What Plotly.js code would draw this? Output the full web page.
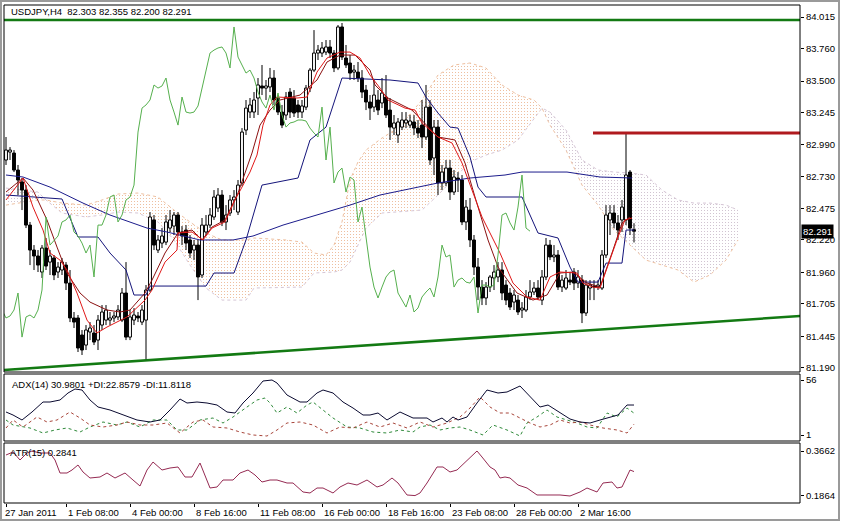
<!DOCTYPE html>
<html><head><meta charset="utf-8">
<script src="https://cdn.plot.ly/plotly-3.0.1.min.js"></script>
<style>html,body{margin:0;padding:0;background:#fff;}#c{width:841px;height:522px;}</style>
</head><body><div id="c"></div>
<script>
// ---------- price data (H4 bars, index 0..157) ----------
const open = [82.864,82.928,82.920,82.783,82.687,82.622,82.340,82.139,82.091,81.962,82.155,82.042,82.075,81.962,81.978,82.018,81.873,81.592,81.592,81.455,81.374,81.479,81.471,81.414,81.535,81.575,81.575,81.592,81.600,81.575,81.793,81.438,81.575,81.608,81.559,81.575,81.817,82.381,82.139,82.195,82.203,82.316,82.332,82.421,82.284,82.300,82.220,82.139,82.179,81.938,82.284,82.340,82.405,82.477,82.582,82.365,82.437,82.542,82.445,82.679,83.105,83.250,83.250,83.363,83.460,83.443,83.452,83.524,83.363,83.250,83.226,83.411,83.363,83.307,83.250,83.290,83.443,83.588,83.725,83.725,83.733,83.774,83.725,83.605,83.935,83.685,83.645,83.572,83.572,83.524,83.427,83.331,83.290,83.347,83.323,83.371,83.266,83.121,83.065,83.129,83.162,83.145,83.170,83.121,83.145,83.049,83.290,82.880,83.129,82.679,82.679,82.799,82.606,82.719,82.703,82.365,82.461,82.220,82.002,81.841,81.753,81.841,81.914,81.922,81.978,81.857,81.793,81.720,81.736,81.656,81.656,81.761,81.801,81.833,81.736,81.922,82.179,82.083,82.099,81.841,81.833,81.897,81.962,81.873,81.897,81.632,81.833,81.849,81.841,81.833,82.099,82.381,82.437,82.357,82.381,82.381,82.767,82.303];
const high = [83.049,82.968,82.944,82.824,82.719,82.662,82.365,82.179,82.139,82.179,82.236,82.139,82.099,82.042,82.075,82.042,81.978,81.640,81.616,81.495,81.535,81.559,81.535,81.616,81.696,81.696,81.640,81.640,81.696,81.833,82.042,81.656,81.672,81.640,81.696,81.857,82.445,82.421,82.260,82.316,82.421,82.461,82.445,82.445,82.332,82.340,82.260,82.220,82.220,82.397,82.421,82.477,82.622,82.638,82.622,82.501,82.582,82.622,82.703,83.121,83.347,83.363,83.411,83.524,83.629,83.508,83.605,83.588,83.387,83.307,83.411,83.443,83.427,83.347,83.347,83.468,83.605,83.910,83.790,83.814,83.830,83.830,83.749,83.951,83.967,83.790,83.709,83.629,83.653,83.588,83.468,83.387,83.508,83.427,83.524,83.548,83.363,83.226,83.202,83.250,83.250,83.226,83.226,83.186,83.347,83.468,83.347,83.186,83.186,82.824,82.864,82.864,82.783,82.767,82.743,82.542,82.558,82.260,82.075,81.897,81.881,81.938,82.018,82.042,82.042,81.897,81.833,81.817,81.777,81.720,81.817,81.897,81.881,81.897,81.978,82.236,82.220,82.179,82.139,81.938,81.978,81.962,81.994,81.978,81.938,81.897,81.897,81.897,81.897,82.139,82.501,82.501,82.501,82.421,82.542,83.081,82.783,82.355];
const low = [82.824,82.864,82.767,82.582,82.461,82.316,82.018,81.978,81.962,81.914,81.978,81.938,81.897,81.914,81.938,81.817,81.559,81.511,81.318,81.294,81.334,81.414,81.374,81.334,81.495,81.535,81.535,81.559,81.575,81.559,81.414,81.414,81.535,81.559,81.535,81.253,81.801,82.139,82.115,82.155,82.179,82.284,82.260,82.252,82.179,82.139,82.075,82.058,81.736,81.914,82.260,82.316,82.381,82.445,82.332,82.300,82.413,82.461,82.421,82.654,83.065,83.202,83.202,83.226,83.387,83.347,83.411,83.307,83.226,83.121,83.186,83.202,83.210,83.202,83.202,83.266,83.411,83.572,83.669,83.693,83.709,83.685,83.572,83.588,83.669,83.605,83.508,83.508,83.492,83.363,83.266,83.186,83.250,83.226,83.282,83.202,83.025,83.065,83.001,83.105,83.121,83.121,83.065,83.041,82.960,83.025,82.824,82.743,82.582,82.622,82.654,82.542,82.582,82.606,82.340,82.300,82.163,81.938,81.736,81.696,81.696,81.801,81.817,81.881,81.736,81.696,81.656,81.656,81.616,81.592,81.640,81.736,81.777,81.736,81.696,81.897,82.058,82.042,81.817,81.801,81.817,81.857,81.817,81.833,81.551,81.608,81.736,81.736,81.817,81.817,82.075,82.260,82.316,82.220,82.284,82.340,82.260,82.200];
const close = [82.944,82.944,82.783,82.703,82.622,82.340,82.139,82.091,82.018,82.155,82.010,82.091,81.938,82.002,82.042,81.873,81.592,81.559,81.350,81.334,81.495,81.511,81.398,81.575,81.640,81.656,81.592,81.608,81.656,81.793,81.438,81.600,81.616,81.592,81.656,81.817,82.405,82.179,82.220,82.252,82.365,82.381,82.421,82.284,82.252,82.195,82.115,82.179,81.922,82.340,82.340,82.421,82.566,82.582,82.365,82.421,82.542,82.566,82.662,83.089,83.282,83.307,83.347,83.468,83.443,83.460,83.524,83.347,83.250,83.145,83.371,83.250,83.242,83.250,83.299,83.443,83.588,83.725,83.749,83.766,83.774,83.725,83.605,83.935,83.693,83.629,83.564,83.588,83.524,83.411,83.331,83.282,83.387,83.266,83.403,83.226,83.129,83.162,83.170,83.186,83.186,83.178,83.121,83.081,83.049,83.290,82.864,83.129,82.679,82.767,82.799,82.606,82.727,82.703,82.365,82.485,82.220,82.002,81.841,81.753,81.841,81.922,81.962,81.978,81.793,81.736,81.680,81.777,81.640,81.672,81.761,81.801,81.833,81.761,81.922,82.179,82.083,82.099,81.841,81.897,81.914,81.881,81.873,81.922,81.632,81.857,81.857,81.841,81.857,82.099,82.421,82.437,82.357,82.300,82.485,82.743,82.316,82.291];

// ---------- indicator readings ----------
const tenkanX = [0,4.25,6.75,9.25,11,13.5,15.25,17.75,20.25,22.75,25.25,30.25,34.75,36.5,39.75,42.75,43,46.5,49.25,51.5,54.75,57.25,59,61,62.75,64.25,66,67.75,72.75,75.25,77.75,80.25,83.5,86,88.5,91,93.5,95.5,99.75,102.25,104,108,111.5,114,116.5,119,121.5,123.5,126.75,130.25,133.5,136,138.5,142.75,144.25,146.75,148.5,151,153,154.75,156.5];
const tenkanV = [82.542,82.719,82.485,82.300,82.115,82.058,81.978,81.793,81.575,81.471,81.519,81.600,81.736,81.817,82.042,82.139,82.276,82.284,82.220,82.316,82.365,82.542,82.646,82.767,82.904,83.145,83.307,83.371,83.363,83.371,83.572,83.685,83.733,83.733,83.685,83.548,83.443,83.347,83.282,83.266,83.162,83.049,83.001,82.840,82.622,82.405,82.244,82.115,81.873,81.761,81.736,81.922,81.962,81.954,81.873,81.841,81.833,82.058,82.244,82.381,82.397];
const maX = [0,4.25,6.75,10.25,12.75,15.25,18.5,21,25.25,28.5,31,34.75,36.5,39.75,43,46.5,49,51.5,54.75,58,61.5,63.5,66,68.5,73.5,77.75,80.25,83.5,87.25,91,92.25,95.5,101.5,108,112.25,114.75,117.25,120.5,123,127.75,131.75,135.25,138.5,141.75,145.25,148.5,151.75,154,156];
const maV = [82.606,82.719,82.622,82.381,82.163,81.954,81.793,81.720,81.656,81.640,81.656,81.793,81.897,82.115,82.276,82.300,82.220,82.324,82.381,82.598,82.920,83.145,83.266,83.347,83.387,83.508,83.653,83.709,83.709,83.588,83.468,83.363,83.266,83.049,83.025,82.840,82.566,82.220,82.002,81.793,81.736,81.777,81.954,81.962,81.873,81.841,82.139,82.357,82.405];
const kijunX = [0,14,18,23,26,30,32,35,36,50,52,57,60,64,73,75,76,80,84,96,103,105,108,111,113,116,118,120,129,133,138,141,143,148,150,154,155,157];
const kijunV = [82.582,82.550,82.244,82.244,82.115,81.978,81.777,81.777,81.849,81.849,81.954,81.954,82.220,82.662,82.719,82.920,83.025,83.129,83.524,83.508,83.484,83.371,83.242,83.129,83.121,82.888,82.646,82.566,82.566,82.276,82.236,82.002,81.881,81.881,82.034,82.034,82.300,82.300];
const smaX = [0,4.25,11,19.25,26,35.25,40.25,48.5,56.75,61.75,69.25,77.75,86,93.5,108,116,124.75,129,140.25,148.5,156.5];
const smaV = [82.743,82.727,82.646,82.517,82.421,82.316,82.284,82.220,82.220,82.252,82.340,82.421,82.501,82.582,82.679,82.719,82.743,82.767,82.767,82.727,82.719];
const chikouShift = 26;
const cloudX = [0,8,10,14,20,24,28,33,38,42,46,50,54,60,62,70,74,77,80,82,84,86,88,90,94,98,104,108,112,116,120,124,128,132,134,136,140,144,148,152,156,160,164,168,172,176,180,183];
const spanA = [82.501,82.542,82.542,82.517,82.501,82.542,82.590,82.598,82.566,82.461,82.365,82.276,82.220,82.220,82.236,82.220,82.203,82.115,82.099,82.179,82.365,82.703,82.848,82.944,83.041,83.121,83.347,83.548,83.629,83.645,83.605,83.468,83.387,83.347,83.282,83.145,82.944,82.662,82.501,82.300,82.179,82.058,82.018,81.978,81.881,81.938,82.058,82.220];
const spanB = [82.638,82.606,82.542,82.437,82.405,82.421,82.445,82.437,82.365,82.220,82.018,81.833,81.736,81.736,81.833,81.841,81.841,81.954,81.962,81.962,81.978,82.042,82.179,82.316,82.437,82.445,82.461,82.582,82.719,82.848,82.904,82.944,83.025,83.202,83.282,83.250,83.105,82.864,82.783,82.767,82.759,82.743,82.622,82.542,82.517,82.517,82.501,82.461];
// trend lines
const lineX = [-0.5, 198.5];
const topLevel = [83.991, 83.991];
const supportLevel = [81.173, 81.608];
const resistX = [146.75, 198.5];
const resistLevel = [83.081, 83.081];
// ADX(14)
const adxX = [0,1.75,4,6.5,9.25,11,13.5,15.5,17.25,19,21,23,26,29.25,32.75,36,38.5,41,43.5,45.25,47.75,50.25,52.75,55.25,57.25,59.25,61.75,64.25,66.5,67.75,70.25,73.5,75.25,77.75,79.25,81.75,84.25,86.75,89.25,91,93,95.25,98.5,101.75,103.5,105.25,106.75,109,110.25,111.75,113,115.25,117.75,120.25,123,125.25,128.5,131,133.5,135.5,138.5,141,143.5,146,148.5,151,153,155.25,157];
const adxV = [24,21,16,24,34,34,36,43,47,46,36,29,26,21,16,14,16,26,37,33,34,33,31,24,23,33,43,55,56,53,41,34,34,43,46,43,34,28,21,21,23,16,24,18,18,18,14,18,14,19,16,19,33,46,43,44,50,39,29,31,23,17,14,13,16,19,21,31,30.98];
const pdiX = [0,1.75,6,9.25,12.25,15.25,18.5,21,24.25,27.75,30.25,33.5,36.75,40.25,42.75,45.25,48.5,51.75,54.25,56.75,60.25,62.75,64.75,66,67.75,70.25,72.75,75.25,76.75,79.25,81.75,85.25,88.5,91.75,95.25,98.5,101.75,103.5,106,108.5,111,113.5,116,119.25,121.75,125.25,128.5,130.25,132.75,135.25,137.75,140.25,142.75,145.25,147.75,150.25,152.75,155.25,157];
const pdiV = [16,11,8,3,6,8,4,9,14,11,14,9,16,16,6,6,16,18,13,19,29,36,38,33,23,29,23,31,34,26,18,9,8,4,3,6,4,9,11,6,8,9,6,1,11,6,0,13,19,26,19,16,13,9,8,23,19,28,22.86];
const mdiX = [0,1.75,4.25,7.75,10.25,12.75,16,18.5,21,24.25,27.75,30.25,33.5,36.75,40.25,43.5,46.75,49.25,51.75,55.25,58.5,61.75,65.25,67.75,70.25,73.5,76.75,80.25,83.5,86.75,90.25,93.5,96.75,100.25,103.5,106.75,110.25,113.5,116,118.5,121,123.5,126,128.5,131,133.5,136,138.5,141,143.5,146,149.25,152.75,155.25,157];
const mdiV = [8,16,9,19,14,16,24,18,11,9,11,14,11,11,13,3,14,16,9,8,4,1,0,6,13,14,11,3,9,8,14,9,13,8,14,9,13,19,28,39,29,23,23,18,13,9,11,16,13,14,11,8,6,3,11.81];
// ATR(15)
const atrX = [0,1.75,3.5,5.25,6.5,8.5,11,12.25,13.5,15.25,16.5,18,19.25,21,23.5,25.25,27.25,29.75,31.75,33.5,35.25,36.75,39,41,43,44.75,46.5,48.5,51,52.75,54.25,56.75,58.5,60.5,62.25,64,66,67.75,70.25,71.75,74.25,76,77.75,79.25,81.75,83.5,85.5,87.75,90.25,92.75,94.25,96.5,98,100.25,102.25,103.5,105.25,107.75,109.25,111,112.75,114,116,117.75,119,121,122.25,123.5,124.75,126,128,130.25,132.75,134.25,136,137.25,138.5,141,143.5,145.25,147.75,149.25,151.5,152.75,154,156,157];
const atrV = [0.3502,0.3622,0.3302,0.3582,0.3662,0.3582,0.3582,0.3302,0.2783,0.2783,0.2903,0.3103,0.2823,0.2583,0.2623,0.2783,0.2583,0.2783,0.2503,0.2263,0.2903,0.3222,0.2903,0.2983,0.3023,0.2623,0.2623,0.3182,0.2184,0.2223,0.2503,0.2503,0.2783,0.2903,0.2703,0.2423,0.2503,0.2503,0.2383,0.2383,0.2024,0.1984,0.2183,0.2183,0.1984,0.2223,0.2383,0.2303,0.2503,0.2223,0.2303,0.2583,0.2383,0.1904,0.1880,0.1984,0.2383,0.3023,0.3023,0.2823,0.2903,0.3103,0.3382,0.3662,0.3422,0.3023,0.2903,0.2583,0.2623,0.2583,0.2303,0.2183,0.1904,0.1904,0.1880,0.1880,0.1904,0.1864,0.2024,0.2183,0.2024,0.2383,0.2423,0.2183,0.2223,0.2903,0.2841];
// axis labels
const priceTicks = [84.015,83.760,83.500,83.245,82.990,82.730,82.475,82.220,81.960,81.705,81.445,81.190];
const adxTicks = [56, 1];
const atrTicks = [0.3662, 0.1864];
const timeTickIdx = [0,15,31,47,63,79,95,111,127,143];
const timeTickText = ["27 Jan 2011","1 Feb 08:00","4 Feb 00:00","8 Feb 16:00","11 Feb 08:00","16 Feb 00:00","18 Feb 16:00","23 Feb 08:00","28 Feb 00:00","2 Mar 16:00"];
const symbolText = "USDJPY,H4  82.303 82.355 82.200 82.291";
const adxText = "ADX(14) 30.9801 +DI:22.8579 -DI:11.8118";
const atrText = "ATR(15) 0.2841";
const lastPrice = 82.291;

// ---------- build traces ----------
const idx = close.map((_, i) => i);
const FONT = "Liberation Sans, Arial, sans-serif";
const traces = [];

// cloud (Senkou span A/B), filled by sign
const upper = spanA.map((a, j) => Math.max(a, spanB[j]));
const patt = (c) => ({shape: '.', fgcolor: c, bgcolor: 'rgba(0,0,0,0)', size: 3, solidity: 0.1});
traces.push({x: cloudX, y: spanB, type: 'scatter', mode: 'lines', line: {width: 0}});
traces.push({x: cloudX, y: upper, type: 'scatter', mode: 'lines', line: {width: 0}, fill: 'tonexty', fillcolor: 'rgba(0,0,0,0)', fillpattern: patt('#e9ae84')});
traces.push({x: cloudX, y: spanA, type: 'scatter', mode: 'lines', line: {width: 0}});
traces.push({x: cloudX, y: upper, type: 'scatter', mode: 'lines', line: {width: 0}, fill: 'tonexty', fillcolor: 'rgba(0,0,0,0)', fillpattern: patt('#c4b4c4')});
traces.push({x: cloudX, y: spanA, type: 'scatter', mode: 'lines', line: {color: '#eec0a0', width: 1, dash: 'dot'}});
traces.push({x: cloudX, y: spanB, type: 'scatter', mode: 'lines', line: {color: '#d6c6d6', width: 1, dash: 'dot'}});

// candles: wicks + bodies (drawn after the cloud)
const wx = [], wy = [];
const bxW = [], byW = [], bxB = [], byB = [];
const hw = 0.36;
idx.forEach(i => {
  const top = Math.max(open[i], close[i]), bot = Math.min(open[i], close[i]);
  wx.push(i, i, null, i, i, null);
  wy.push(high[i], top, null, bot, low[i], null);
  const px = [i - hw, i + hw, i + hw, i - hw, i - hw, null];
  const py = [bot, bot, top, top, bot, null];
  if (close[i] >= open[i]) { bxW.push(...px); byW.push(...py); } else { bxB.push(...px); byB.push(...py); }
});
traces.push({x: wx, y: wy, type: 'scatter', mode: 'lines', line: {color: '#000', width: 1}});
traces.push({x: bxW, y: byW, type: 'scatter', mode: 'lines', fill: 'toself', fillcolor: '#ffffff', line: {color: '#000', width: 1}});
traces.push({x: bxB, y: byB, type: 'scatter', mode: 'lines', fill: 'toself', fillcolor: '#000000', line: {color: '#000', width: 1}});

// lines
traces.push({x: smaX, y: smaV, type: 'scatter', mode: 'lines', line: {color: '#1c1c8c', width: 1}});
traces.push({x: kijunX, y: kijunV, type: 'scatter', mode: 'lines', line: {color: '#14147a', width: 1}});
traces.push({x: maX, y: maV, type: 'scatter', mode: 'lines', line: {color: '#8b1010', width: 1}});
traces.push({x: tenkanX, y: tenkanV, type: 'scatter', mode: 'lines', line: {color: '#e01818', width: 1}});
traces.push({x: idx.map(i => i - chikouShift), y: close, type: 'scatter', mode: 'lines', line: {color: '#56b04e', width: 1}});
// trend lines
traces.push({x: lineX, y: topLevel, type: 'scatter', mode: 'lines', line: {color: '#137a13', width: 2.6}});
traces.push({x: lineX, y: supportLevel, type: 'scatter', mode: 'lines', line: {color: '#137a13', width: 2.6}});
traces.push({x: resistX, y: resistLevel, type: 'scatter', mode: 'lines', line: {color: '#b01a1e', width: 3}});

// ADX panel
traces.push({x: pdiX, y: pdiV, xaxis: 'x', yaxis: 'y2', type: 'scatter', mode: 'lines', line: {color: '#2f8a3a', width: 1, dash: '3px,3px'}});
traces.push({x: mdiX, y: mdiV, xaxis: 'x', yaxis: 'y2', type: 'scatter', mode: 'lines', line: {color: '#a8453a', width: 1, dash: '3px,3px'}});
traces.push({x: adxX, y: adxV, xaxis: 'x', yaxis: 'y2', type: 'scatter', mode: 'lines', line: {color: '#0a0a30', width: 1}});
// ATR panel
traces.push({x: atrX, y: atrV, xaxis: 'x', yaxis: 'y3', type: 'scatter', mode: 'lines', line: {color: '#952a52', width: 1}});

// ---------- layout ----------
const H = 498, B = 503;
const mainDom = [(B - 372) / H, 1];
const adxDom = [(B - 441) / H, (B - 374) / H];
const atrDom = [0, (B - 443) / H];
const yCommon = {side: 'right', showgrid: false, zeroline: false, showline: false, ticks: 'outside', ticklen: 3, tickcolor: '#000', tickfont: {family: FONT, size: 9.5, color: '#000'}, fixedrange: true};

const annotations = [
  {xref: 'paper', yref: 'paper', x: 0.0063, y: (B - 12) / H, xanchor: 'left', yanchor: 'middle', text: symbolText, showarrow: false, font: {family: FONT, size: 9.5, color: '#000'}},
  {xref: 'paper', yref: 'paper', x: 0.0075, y: (B - 385) / H, xanchor: 'left', yanchor: 'middle', text: adxText, showarrow: false, font: {family: FONT, size: 9.5, color: '#000'}},
  {xref: 'paper', yref: 'paper', x: 0.005, y: (B - 452) / H, xanchor: 'left', yanchor: 'middle', text: atrText, showarrow: false, font: {family: FONT, size: 9.5, color: '#000'}},
  {xref: 'paper', yref: 'y', x: 1, y: lastPrice, xanchor: 'left', yanchor: 'middle', xshift: 1, text: lastPrice.toFixed(3), showarrow: false, bgcolor: '#000', borderpad: 1, font: {family: FONT, size: 9.5, color: '#fff'}}
];
timeTickIdx.forEach((t, k) => annotations.push({xref: 'x', yref: 'paper', x: t, y: (B - 512) / H, xanchor: 'left', yanchor: 'middle', xshift: k === 0 ? -3 : 0, text: timeTickText[k], showarrow: false, font: {family: FONT, size: 9.5, color: '#000'}}));

const rect = (d) => ({type: 'rect', xref: 'paper', yref: 'paper', x0: 0, x1: 1, y0: d[0], y1: d[1], line: {color: '#000', width: 1}, fillcolor: 'rgba(0,0,0,0)'});
const layout = {
  width: 841, height: 522,
  margin: {l: 4, r: 41, t: 5, b: 19, pad: 0},
  paper_bgcolor: '#fff', plot_bgcolor: '#fff',
  showlegend: false, hovermode: false,
  xaxis: {domain: [0, 1], range: [-0.5, 198.5], anchor: 'y3', showgrid: false, zeroline: false, showline: false, tickvals: timeTickIdx, ticks: 'outside', ticklen: 3, tickcolor: '#000', showticklabels: false, fixedrange: true},
  yaxis: Object.assign({}, yCommon, {domain: mainDom, range: [81.157, 84.112], anchor: 'x', tickvals: priceTicks, ticktext: priceTicks.map(v => v.toFixed(3))}),
  yaxis2: Object.assign({}, yCommon, {domain: adxDom, range: [-5, 62], anchor: 'x', tickvals: adxTicks, ticktext: adxTicks.map(String)}),
  yaxis3: Object.assign({}, yCommon, {domain: atrDom, range: [0.1584, 0.3982], anchor: 'x', tickvals: atrTicks, ticktext: atrTicks.map(v => v.toFixed(4))}),
  shapes: [rect(mainDom), rect(adxDom), rect(atrDom),
    {type: 'rect', xref: 'paper', yref: 'paper', x0: -0.0038, x1: 1.049, y0: -0.034, y1: 1.008, line: {color: '#9a9a9a', width: 2}, fillcolor: 'rgba(0,0,0,0)'}],
  annotations: annotations
};
Plotly.newPlot('c', traces, layout, {staticPlot: true, displayModeBar: false});
</script>
</body></html>
